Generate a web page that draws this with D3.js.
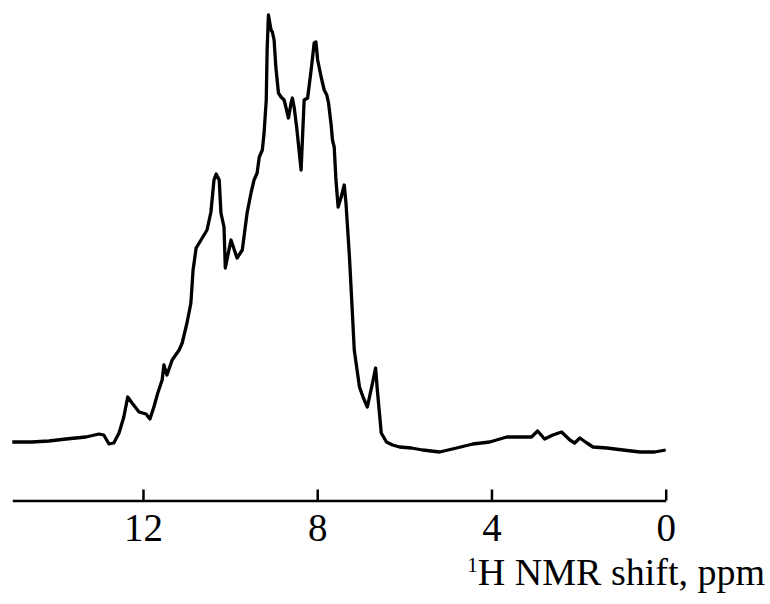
<!DOCTYPE html>
<html>
<head>
<meta charset="utf-8">
<script src="https://cdn.jsdelivr.net/npm/d3@7"></script>
<style>
  body { margin: 0; background: #fff; }
  svg { display: block; }
</style>
</head>
<body>
<div id="spectrum"></div>
<script>
// chemical shift (ppm) left to right
const shiftPpm = [
    15.0, 14.55, 14.16, 13.77, 13.31, 13.01, 12.90, 12.78, 12.67, 12.55,
    12.44, 12.35, 12.25, 12.09, 11.93, 11.84, 11.75, 11.66, 11.56, 11.52,
    11.45, 11.33, 11.17, 11.10, 10.99, 10.90, 10.85, 10.78, 10.64, 10.53,
    10.44, 10.37, 10.32, 10.25, 10.21, 10.14, 10.11, 9.98, 9.84, 9.72,
    9.61, 9.52, 9.45, 9.38, 9.33, 9.26, 9.22, 9.17, 9.15, 9.12,
    9.06, 9.03, 8.99, 8.95, 8.89, 8.83, 8.76, 8.72, 8.66, 8.60,
    8.57, 8.53, 8.47, 8.37, 8.30, 8.22, 8.14, 8.07, 8.03, 7.99,
    7.91, 7.84, 7.78, 7.74, 7.68, 7.65, 7.61, 7.57, 7.52, 7.45,
    7.38, 7.34, 7.30, 7.26, 7.22, 7.15, 7.03, 6.94, 6.85, 6.73,
    6.66, 6.62, 6.53, 6.41, 6.27, 6.11, 5.84, 5.58, 5.19, 4.80,
    4.43, 4.04, 3.65, 3.28, 3.08, 2.94, 2.78, 2.59, 2.39, 2.20,
    2.09, 1.97, 1.81, 1.67, 1.35, 0.98, 0.59, 0.25, 0.0
];
// signal intensity (arbitrary units)
const intensity = [
    18, 18, 19, 21, 23, 26, 25, 16, 17, 27,
    43, 63, 57, 48, 46, 41, 53, 67, 80, 95,
    85, 100, 110, 117, 137, 157, 190, 212, 222, 230,
    248, 280, 286, 280, 247, 233, 192, 220, 202, 210,
    247, 267, 280, 287, 303, 310, 327, 360, 410, 445,
    430, 428, 420, 393, 367, 363, 360, 353, 342, 357,
    362, 353, 332, 290, 360, 362, 390, 417, 418, 400,
    383, 370, 365, 357, 335, 320, 313, 280, 253, 263,
    275, 257, 230, 203, 170, 110, 73, 62, 53, 77,
    92, 70, 27, 18, 15, 13, 12, 10, 8, 12,
    16, 18, 23, 23, 23, 29, 21, 25, 28, 20,
    17, 22, 17, 13, 12, 10, 8, 8, 10
];
const tickValues = [12, 8, 4, 0];

const width = 770;
const height = 604;
const axisY = 500.5;

const points = shiftPpm.map((p, i) => ({ ppm: p, value: intensity[i] }));

const x = d3.scaleLinear()
    .domain([15, 0])
    .range([12.3, 665.7]);

const y = d3.scaleLinear()
    .domain([0, 445])
    .range([460, 15]);

const svg = d3.select("#spectrum")
    .append("svg")
    .attr("width", width)
    .attr("height", height);

const line = d3.line()
    .x(d => x(d.ppm))
    .y(d => y(d.value));

svg.append("path")
    .datum(points)
    .attr("fill", "none")
    .attr("stroke", "#000")
    .attr("stroke-width", 3.3)
    .attr("stroke-linejoin", "round")
    .attr("d", line);

// axis with ticks pointing up into the plot
svg.append("g")
    .attr("transform", `translate(0, ${axisY})`)
    .call(d3.axisBottom(x).tickValues(tickValues).tickSize(-11).tickSizeOuter(0).tickFormat(d3.format("d")))
    .call(g => g.select(".domain").attr("stroke", "#000").attr("stroke-width", 2.5))
    .call(g => g.selectAll(".tick line").attr("stroke", "#000").attr("stroke-width", 2.5))
    .call(g => g.selectAll(".tick text")
        .attr("y", 40)
        .attr("dy", null)
        .attr("fill", "#000")
        .style("font-family", "'Liberation Serif', 'Times New Roman', serif")
        .style("font-size", "39px"));

const label = svg.append("text")
    .attr("x", 765)
    .attr("y", 585)
    .attr("text-anchor", "end")
    .attr("fill", "#000")
    .style("font-family", "'Liberation Serif', 'Times New Roman', serif")
    .style("font-size", "38px");
label.append("tspan")
    .attr("dy", -13)
    .style("font-size", "21px")
    .text("1");
label.append("tspan")
    .attr("dy", 13)
    .text("H NMR shift, ppm");
</script>
</body>
</html>
